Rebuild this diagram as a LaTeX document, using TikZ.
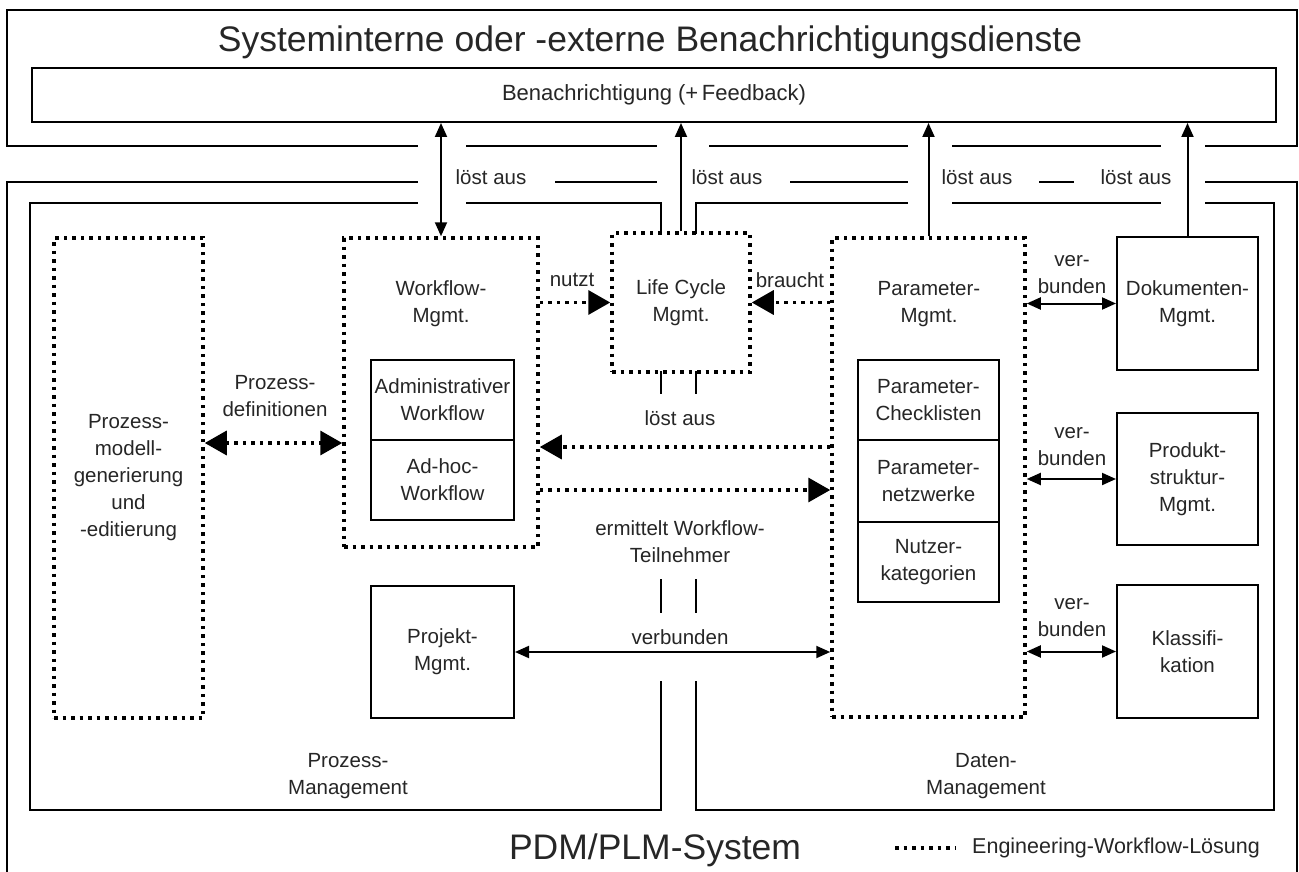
\documentclass[tikz,border=0pt]{standalone}
\usepackage{fontspec}
\setmainfont{Liberation Sans}
\usetikzlibrary{arrows.meta}

\newcommand\diagsmall{\fontsize{20.5}{27}\selectfont}
\newcommand\diaglarge{\fontsize{35.5}{42}\selectfont}

\tikzset{
  frame/.style={line width=2pt, line cap=rect},
  solidbox/.style={draw, line width=2pt, inner sep=0pt, align=center, font=\diagsmall, text=black!85},
  dotbox/.style={draw, line width=3.5pt, dash pattern=on 3.5pt off 5pt, inner sep=0pt, align=center, font=\diagsmall, text=black!85},
  lbl/.style={font=\diagsmall, align=center, inner sep=1pt, text=black!85},
  solidarr/.style={line width=2pt, >={Triangle[length=14pt,width=12pt]}},
  dotarr/.style={line width=3.5pt, dash pattern=on 3.5pt off 5pt, >={Triangle[length=22pt,width=24pt]}},
}

\begin{document}
\begin{tikzpicture}[x=1pt, y=-1pt]
  \fill[white] (0,0) rectangle (1299,872);
  \useasboundingbox (0,0) rectangle (1299,872);

  % notification services frame
  \draw[frame] (417,146) -- (7,146) -- (7,10) -- (1297,10) -- (1297,146) -- (1206,146);
  \draw[frame] (467,146) -- (656,146);
  \draw[frame] (710,146) -- (907,146);
  \draw[frame] (953,146) -- (1160,146);
  \node[font=\diaglarge, text=black!85] (title) at (650,42) {Systeminterne oder -externe Benachrichtigungsdienste};
  \node[solidbox, minimum width=1244pt, minimum height=54pt, font=\fontsize{22}{27}\selectfont] (ben) at (654,95) {Benachrichtigung (+\,Feedback)};

  % PDM/PLM system frame
  \draw[frame] (417,182) -- (7,182) -- (7,874);
  \draw[frame] (1206,182) -- (1297,182) -- (1297,874);
  \draw[frame] (556,182) -- (656,182);
  \draw[frame] (791,182) -- (907,182);
  \draw[frame] (1040,182) -- (1073,182);

  % process management frame
  \draw[frame] (417,203) -- (30,203) -- (30,810) -- (661,810) -- (661,682);
  \draw[frame] (467,203) -- (661,203) -- (661,233);
  \draw[frame] (661,372) -- (661,393);
  \draw[frame] (661,580) -- (661,612);

  % data management frame
  \draw[frame] (696,233) -- (696,203) -- (907,203);
  \draw[frame] (953,203) -- (1160,203);
  \draw[frame] (1206,203) -- (1274,203) -- (1274,810) -- (696,810) -- (696,682);
  \draw[frame] (696,372) -- (696,393);
  \draw[frame] (696,580) -- (696,612);

  % modules
  \node[dotbox, minimum width=149pt, minimum height=480pt] (pmg) at (128.5,478) {Prozess-\\modell-\\generierung\\und\\-editierung};
  \node[dotbox, minimum width=194pt, minimum height=309pt] (wf) at (441,392.5) {};
  \node[lbl] (wftxt) at (441,304) {Workflow-\\Mgmt.};
  \node[solidbox, minimum width=143pt, minimum height=80pt] (adm) at (442.5,400) {Administrativer\\Workflow};
  \node[solidbox, minimum width=143pt, minimum height=80pt] (adh) at (442.5,480) {Ad-hoc-\\Workflow};
  \node[dotbox, minimum width=138pt, minimum height=139pt] (lcm) at (681,302.5) {Life Cycle\\Mgmt.};
  \node[dotbox, minimum width=193pt, minimum height=479pt] (pm) at (928.5,477.5) {};
  \node[lbl] (pmtxt) at (929,304) {Parameter-\\Mgmt.};
  \node[solidbox, minimum width=141pt, minimum height=80pt] (chk) at (928.5,400) {Parameter-\\Checklisten};
  \node[solidbox, minimum width=141pt, minimum height=82pt] (net) at (928.5,481) {Parameter-\\netzwerke};
  \node[solidbox, minimum width=141pt, minimum height=80pt] (nutz) at (928.5,562) {Nutzer-\\kategorien};
  \node[solidbox, minimum width=143pt, minimum height=132pt] (pj) at (442.5,652) {Projekt-\\Mgmt.};
  \node[solidbox, minimum width=141pt, minimum height=133pt] (dok) at (1187.5,303.5) {Dokumenten-\\Mgmt.};
  \node[solidbox, minimum width=141pt, minimum height=132pt] (prod) at (1187.5,479) {Produkt-\\struktur-\\Mgmt.};
  \node[solidbox, minimum width=141pt, minimum height=133pt] (kls) at (1187.5,651.5) {Klassifi-\\kation};

  % level marks for the horizontal connectors
  \coordinate (lvlpd) at (0,443);
  \coordinate (lvlla) at (0,447);
  \coordinate (lvler) at (0,490);

  % triggers to the notification service
  \draw[solidarr,<->] (ben.south -| wf.north) -- (wf.north);
  \draw[solidarr,->] (lcm.north) -- (lcm.north |- ben.south);
  \draw[solidarr,->] (pm.north) -- (pm.north |- ben.south);
  \draw[solidarr,->] (dok.north) -- (dok.north |- ben.south);
  \node[lbl] (la1) at (491,177) {löst aus};
  \node[lbl] (la2) at (727,177) {löst aus};
  \node[lbl] (la3) at (977,177) {löst aus};
  \node[lbl] (la4) at (1136,177) {löst aus};

  % engineering workflow connectors
  \draw[dotarr,<->] (pmg.east |- lvlpd) -- (wf.west |- lvlpd);
  \node[lbl] (pdef) at (275,396) {Prozess-\\definitionen};
  \draw[dotarr,->] (wf.east |- lcm.west) -- (lcm.west);
  \node[lbl] (nutzt) at (572,280) {nutzt};
  \draw[dotarr,->] (pm.west |- lcm.east) -- (lcm.east);
  \node[lbl] (braucht) at (790,280) {braucht};
  \draw[dotarr,->] (pm.west |- lvlla) -- (wf.east |- lvlla);
  \node[lbl] (la5) at (680,418) {löst aus};
  \draw[dotarr,->] (wf.east |- lvler) -- (pm.west |- lvler);
  \node[lbl] (ermit) at (680,542) {ermittelt Workflow-\\Teilnehmer};

  % data links
  \draw[solidarr,<->] (pj.east) -- (pm.west |- pj.east);
  \node[lbl] (vb0) at (680,637) {verbunden};
  \draw[solidarr,<->] (pm.east |- dok.west) -- (dok.west);
  \node[lbl] (vb1) at (1072,275) {ver-\\bunden};
  \draw[solidarr,<->] (pm.east |- prod.west) -- (prod.west);
  \node[lbl] (vb2) at (1072,447) {ver-\\bunden};
  \draw[solidarr,<->] (pm.east |- kls.west) -- (kls.west);
  \node[lbl] (vb3) at (1072,618) {ver-\\bunden};

  % area captions
  \node[lbl] (procmgmt) at (348,776) {Prozess-\\Management};
  \node[lbl] (datamgmt) at (986,776) {Daten-\\Management};
  \node[font=\diaglarge, text=black!85] (pdm) at (655,850) {PDM/PLM-System};

  % legend
  \coordinate (legA) at (895,848);
  \coordinate (legB) at (956,848);
  \draw[line width=3.5pt, dash pattern=on 3.5pt off 5pt] (legA) -- (legB);
  \node[lbl, anchor=west, inner sep=0pt, font=\fontsize{21.5}{27}\selectfont] (legtxt) at (972,848) {Engineering-Workflow-Lösung};
\end{tikzpicture}
\end{document}
